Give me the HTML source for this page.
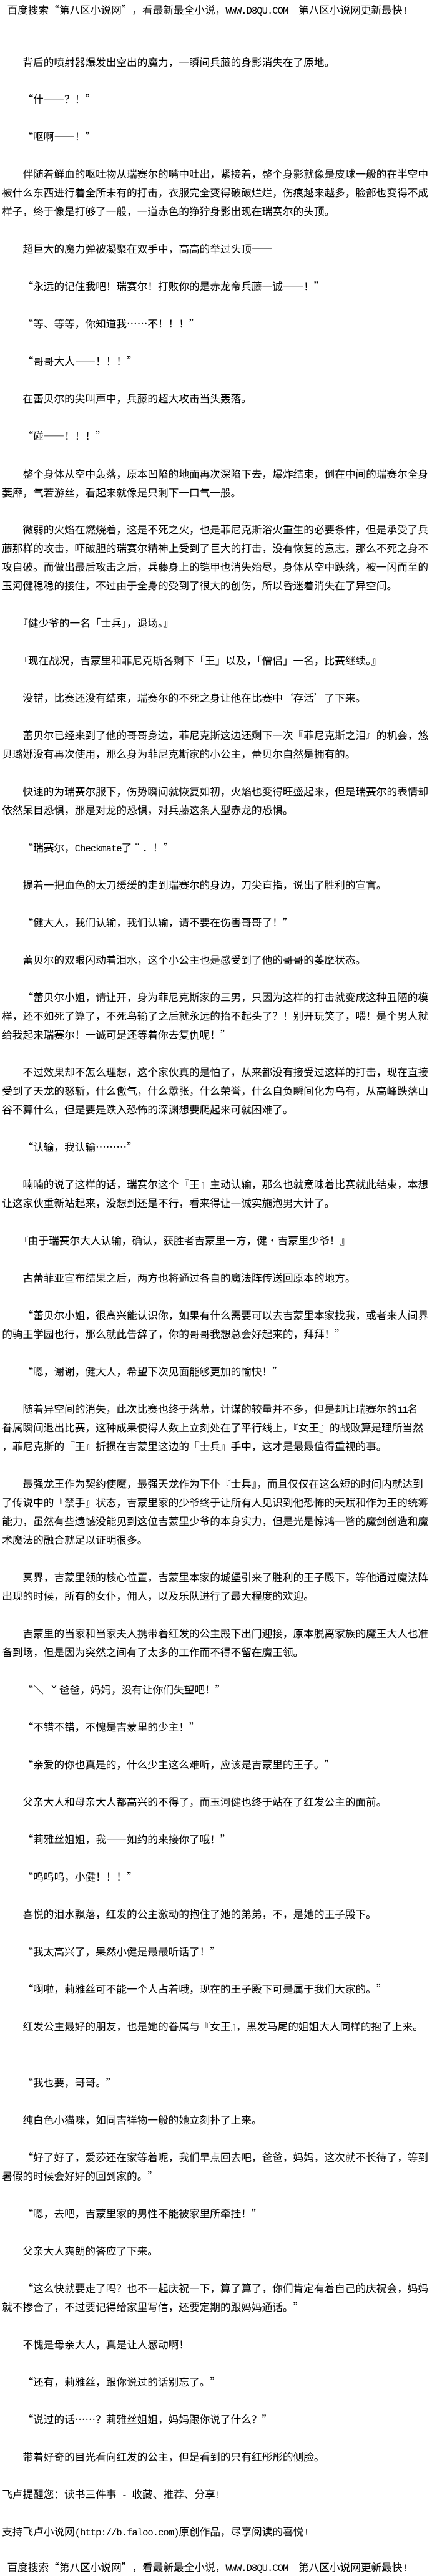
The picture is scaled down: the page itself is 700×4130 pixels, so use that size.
<!DOCTYPE html>
<html lang="zh-CN">
<head>
<meta charset="utf-8">
<title>第八区小说网</title>
<style>
html,body{margin:0;padding:0;background:#fff}
#p{position:relative;width:700px;height:4130px;overflow:hidden;background:#fff;color:#000}
#p div{position:absolute;left:3.2px;height:30px;line-height:30px;white-space:pre;font-family:"Noto Sans CJK SC","WenQuanYi Zen Hei",sans-serif;font-size:16.67px;font-weight:400}
#p i{font-style:normal;font-family:"Liberation Mono","Noto Sans CJK SC",monospace;font-size:15.5px;letter-spacing:-0.97px}
#p b{font-weight:400;display:inline-block;width:1em;text-align:center}
</style>
</head>
<body>
<div id="p">
<div style="top:0px"><i> </i>百度搜索<b>“</b>第八区小说网<b>”</b>，看最新最全小说，<i>WWW.D8QU.COM  </i>第八区小说网更新最快<i>!</i></div>
<div style="top:84px">　　背后的喷射器爆发出空出的魔力，一瞬间兵藤的身影消失在了原地。</div>
<div style="top:143px">　　<b>“</b>什——？！<b>”</b></div>
<div style="top:203px">　　<b>“</b>呕啊——！<b>”</b></div>
<div style="top:263px">　　伴随着鲜血的呕吐物从瑞赛尔的嘴中吐出，紧接着，整个身影就像是皮球一般的在半空中</div>
<div style="top:293px">被什么东西进行着全所未有的打击，衣服完全变得破破烂烂，伤痕越来越多，脸部也变得不成</div>
<div style="top:323px">样子，终于像是打够了一般，一道赤色的狰狞身影出现在瑞赛尔的头顶。</div>
<div style="top:383px">　　超巨大的魔力弹被凝聚在双手中，高高的举过头顶——</div>
<div style="top:443px">　　<b>“</b>永远的记住我吧！瑞赛尔！打败你的是赤龙帝兵藤一诚——！<b>”</b></div>
<div style="top:503px">　　<b>“</b>等、等等，你知道我……不！！！<b>”</b></div>
<div style="top:563px">　　<b>“</b>哥哥大人——！！！<b>”</b></div>
<div style="top:623px">　　在蕾贝尔的尖叫声中，兵藤的超大攻击当头轰落。</div>
<div style="top:683px">　　<b>“</b>碰——！！！<b>”</b></div>
<div style="top:744px">　　整个身体从空中轰落，原本凹陷的地面再次深陷下去，爆炸结束，倒在中间的瑞赛尔全身</div>
<div style="top:774px">萎靡，气若游丝，看起来就像是只剩下一口气一般。</div>
<div style="top:833px">　　微弱的火焰在燃烧着，这是不死之火，也是菲尼克斯浴火重生的必要条件，但是承受了兵</div>
<div style="top:863px">藤那样的攻击，吓破胆的瑞赛尔精神上受到了巨大的打击，没有恢复的意志，那么不死之身不</div>
<div style="top:893px">攻自破。而做出最后攻击之后，兵藤身上的铠甲也消失殆尽，身体从空中跌落，被一闪而至的</div>
<div style="top:923px">玉河健稳稳的接住，不过由于全身的受到了很大的创伤，所以昏迷着消失在了异空间。</div>
<div style="top:983px">　　『健少爷的一名「士兵」，退场。』</div>
<div style="top:1043px">　　『现在战况，吉蒙里和菲尼克斯各剩下「王」以及，「僧侣」一名，比赛继续。』</div>
<div style="top:1103px">　　没错，比赛还没有结束，瑞赛尔的不死之身让他在比赛中<b>‘</b>存活<b>’</b>了下来。</div>
<div style="top:1163px">　　蕾贝尔已经来到了他的哥哥身边，菲尼克斯这边还剩下一次『菲尼克斯之泪』的机会，悠</div>
<div style="top:1193px">贝璐娜没有再次使用，那么身为菲尼克斯家的小公主，蕾贝尔自然是拥有的。</div>
<div style="top:1253px">　　快速的为瑞赛尔服下，伤势瞬间就恢复如初，火焰也变得旺盛起来，但是瑞赛尔的表情却</div>
<div style="top:1283px">依然呆目恐惧，那是对龙的恐惧，对兵藤这条人型赤龙的恐惧。</div>
<div style="top:1343px">　　<b>“</b>瑞赛尔，<i>Checkmate</i>了<b>¨</b>．！<b>”</b></div>
<div style="top:1403px">　　提着一把血色的太刀缓缓的走到瑞赛尔的身边，刀尖直指，说出了胜利的宣言。</div>
<div style="top:1463px">　　<b>“</b>健大人，我们认输，我们认输，请不要在伤害哥哥了！<b>”</b></div>
<div style="top:1523px">　　蕾贝尔的双眼闪动着泪水，这个小公主也是感受到了他的哥哥的萎靡状态。</div>
<div style="top:1583px">　　<b>“</b>蕾贝尔小姐，请让开，身为菲尼克斯家的三男，只因为这样的打击就变成这种丑陋的模</div>
<div style="top:1613px">样，还不如死了算了，不死鸟输了之后就永远的抬不起头了？！别开玩笑了，喂！是个男人就</div>
<div style="top:1643px">给我起来瑞赛尔！一诚可是还等着你去复仇呢！<b>”</b></div>
<div style="top:1703px">　　不过效果却不怎么理想，这个家伙真的是怕了，从来都没有接受过这样的打击，现在直接</div>
<div style="top:1733px">受到了天龙的怒斩，什么傲气，什么嚣张，什么荣誉，什么自负瞬间化为乌有，从高峰跌落山</div>
<div style="top:1763px">谷不算什么，但是要是跌入恐怖的深渊想要爬起来可就困难了。</div>
<div style="top:1823px">　　<b>“</b>认输，我认输………<b>”</b></div>
<div style="top:1883px">　　喃喃的说了这样的话，瑞赛尔这个『王』主动认输，那么也就意味着比赛就此结束，本想</div>
<div style="top:1913px">让这家伙重新站起来，没想到还是不行，看来得让一诚实施泡男大计了。</div>
<div style="top:1973px">　　『由于瑞赛尔大人认输，确认，获胜者吉蒙里一方，健<b>·</b>吉蒙里少爷！』</div>
<div style="top:2033px">　　古蕾菲亚宣布结果之后，两方也将通过各自的魔法阵传送回原本的地方。</div>
<div style="top:2093px">　　<b>“</b>蕾贝尔小姐，很高兴能认识你，如果有什么需要可以去吉蒙里本家找我，或者来人间界</div>
<div style="top:2123px">的驹王学园也行，那么就此告辞了，你的哥哥我想总会好起来的，拜拜！<b>”</b></div>
<div style="top:2183px">　　<b>“</b>嗯，谢谢，健大人，希望下次见面能够更加的愉快！<b>”</b></div>
<div style="top:2243px">　　随着异空间的消失，此次比赛也终于落幕，计谋的较量并不多，但是却让瑞赛尔的<i>11</i>名</div>
<div style="top:2273px">眷属瞬间退出比赛，这种成果使得人数上立刻处在了平行线上，『女王』的战败算是理所当然</div>
<div style="top:2303px">，菲尼克斯的『王』折损在吉蒙里这边的『士兵』手中，这才是最最值得重视的事。</div>
<div style="top:2363px">　　最强龙王作为契约使魔，最强天龙作为下仆『士兵』，而且仅仅在这么短的时间内就达到</div>
<div style="top:2393px">了传说中的『禁手』状态，吉蒙里家的少爷终于让所有人见识到他恐怖的天赋和作为王的统筹</div>
<div style="top:2423px">能力，虽然有些遗憾没能见到这位吉蒙里少爷的本身实力，但是光是惊鸿一瞥的魔剑创造和魔</div>
<div style="top:2453px">术魔法的融合就足以证明很多。</div>
<div style="top:2513px">　　冥界，吉蒙里领的核心位置，吉蒙里本家的城堡引来了胜利的王子殿下，等他通过魔法阵</div>
<div style="top:2543px">出现的时候，所有的女仆，佣人，以及乐队进行了最大程度的欢迎。</div>
<div style="top:2603px">　　吉蒙里的当家和当家夫人携带着红发的公主殿下出门迎接，原本脱离家族的魔王大人也准</div>
<div style="top:2633px">备到场，但是因为突然之间有了太多的工作而不得不留在魔王领。</div>
<div style="top:2693px">　　<b>“</b>＼<i> </i><b>ˇ</b>爸爸，妈妈，没有让你们失望吧！<b>”</b></div>
<div style="top:2753px">　　<b>“</b>不错不错，不愧是吉蒙里的少主！<b>”</b></div>
<div style="top:2813px">　　<b>“</b>亲爱的你也真是的，什么少主这么难听，应该是吉蒙里的王子。<b>”</b></div>
<div style="top:2873px">　　父亲大人和母亲大人都高兴的不得了，而玉河健也终于站在了红发公主的面前。</div>
<div style="top:2933px">　　<b>“</b>莉雅丝姐姐，我——如约的来接你了哦！<b>”</b></div>
<div style="top:2993px">　　<b>“</b>呜呜呜，小健！！！<b>”</b></div>
<div style="top:3053px">　　喜悦的泪水飘落，红发的公主激动的抱住了她的弟弟，不，是她的王子殿下。</div>
<div style="top:3113px">　　<b>“</b>我太高兴了，果然小健是最最听话了！<b>”</b></div>
<div style="top:3173px">　　<b>“</b>啊啦，莉雅丝可不能一个人占着哦，现在的王子殿下可是属于我们大家的。<b>”</b></div>
<div style="top:3233px">　　红发公主最好的朋友，也是她的眷属与『女王』，黑发马尾的姐姐大人同样的抱了上来。</div>
<div style="top:3323px">　　<b>“</b>我也要，哥哥。<b>”</b></div>
<div style="top:3383px">　　纯白色小猫咪，如同吉祥物一般的她立刻扑了上来。</div>
<div style="top:3443px">　　<b>“</b>好了好了，爱莎还在家等着呢，我们早点回去吧，爸爸，妈妈，这次就不长待了，等到</div>
<div style="top:3473px">暑假的时候会好好的回到家的。<b>”</b></div>
<div style="top:3533px">　　<b>“</b>嗯，去吧，吉蒙里家的男性不能被家里所牵挂！<b>”</b></div>
<div style="top:3593px">　　父亲大人爽朗的答应了下来。</div>
<div style="top:3653px">　　<b>“</b>这么快就要走了吗？也不一起庆祝一下，算了算了，你们肯定有着自己的庆祝会，妈妈</div>
<div style="top:3683px">就不掺合了，不过要记得给家里写信，还要定期的跟妈妈通话。<b>”</b></div>
<div style="top:3743px">　　不愧是母亲大人，真是让人感动啊！</div>
<div style="top:3803px">　　<b>“</b>还有，莉雅丝，跟你说过的话别忘了。<b>”</b></div>
<div style="top:3863px">　　<b>“</b>说过的话……？莉雅丝姐姐，妈妈跟你说了什么？<b>”</b></div>
<div style="top:3923px">　　带着好奇的目光看向红发的公主，但是看到的只有红彤彤的侧脸。</div>
<div style="top:3983px">飞卢提醒您：读书三件事<i> - </i>收藏、推荐、分享<i>!</i></div>
<div style="top:4043px">支持飞卢小说网<i>(http://b.faloo.com)</i>原创作品，尽享阅读的喜悦<i>!</i></div>
<div style="top:4100px"><i> </i>百度搜索<b>“</b>第八区小说网<b>”</b>，看最新最全小说，<i>WWW.D8QU.COM  </i>第八区小说网更新最快<i>!</i></div>
</div>
</body>
</html>
